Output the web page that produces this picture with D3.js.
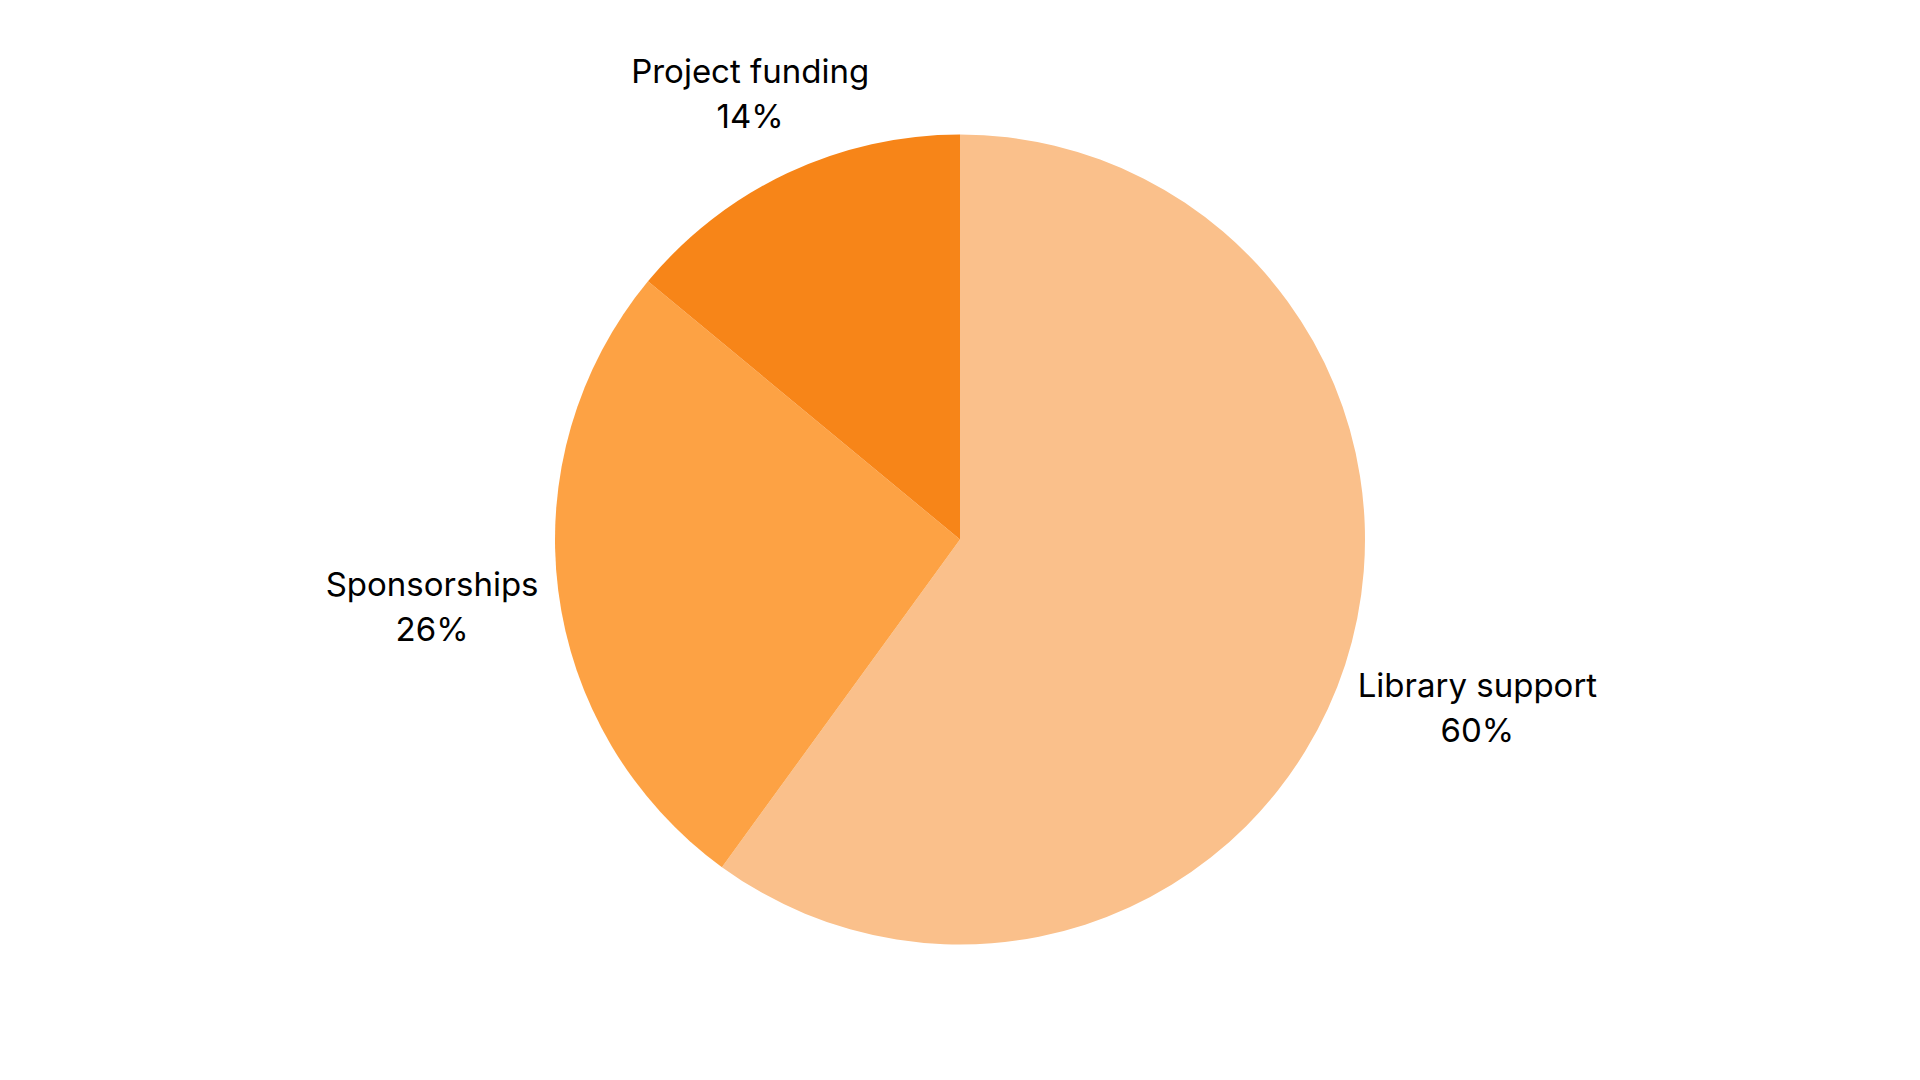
<!DOCTYPE html>
<html>
<head>
<meta charset="utf-8">
<script src="https://cdn.jsdelivr.net/npm/d3@7"></script>
<style>
  html, body { margin: 0; padding: 0; background: #fff; }
  svg { display: block; }
  .label { font-family: Inter, "Open Sans", sans-serif; font-size: 33px; fill: #000; }
</style>
</head>
<body>
<svg id="chart"></svg>
<script>
// Chart data
const categories = ["Library support", "Sponsorships", "Project funding"];
const shares = [60, 26, 14];
const sliceColors = ["#FAC08B", "#FDA244", "#F78518"];

const width = 1920, height = 1080;
const cx = 960, cy = 539.5, radius = 405;

const svg = d3.select("#chart")
    .attr("width", width)
    .attr("height", height);

const g = svg.append("g")
    .attr("transform", "translate(" + cx + "," + cy + ")");

const pie = d3.pie().sort(null).value(d => d.value);
const arcs = pie(categories.map((c, i) => ({ name: c, value: shares[i], color: sliceColors[i] })));

const arc = d3.arc().innerRadius(0).outerRadius(radius);

g.selectAll("path.slice")
    .data(arcs)
    .enter()
    .append("path")
    .attr("class", "slice")
    .attr("d", arc)
    .style("fill", d => d.data.color);

// Labels: two lines, the box pushed out along the mid angle until it clears the pie
const labelGap = 19;
const lineHeight = 45;

const labels = g.selectAll("text.label")
    .data(arcs)
    .enter()
    .append("text")
    .attr("class", "label")
    .attr("text-anchor", "middle");

labels.append("tspan").attr("x", 0).attr("dy", 0).text(d => d.data.name);
labels.append("tspan").attr("x", 0).attr("dy", lineHeight).text(d => d.data.value + "%");

labels.each(function(d) {
    const a = (d.startAngle + d.endAngle) / 2;
    const s = Math.sin(a), c = Math.cos(a);
    const box = this.getBBox();
    // the vertical clearance only counts about one line of text
    const clearH = box.height - lineHeight;
    const dist = radius + labelGap + box.width / 2 * Math.abs(s) + clearH / 2 * Math.abs(c);
    const bx = dist * s;
    const by = -dist * c;
    const ox = box.x + box.width / 2;
    const oy = box.y + box.height / 2;
    d3.select(this).attr("transform", "translate(" + (bx - ox) + "," + (by - oy) + ")");
});
</script>
</body>
</html>
